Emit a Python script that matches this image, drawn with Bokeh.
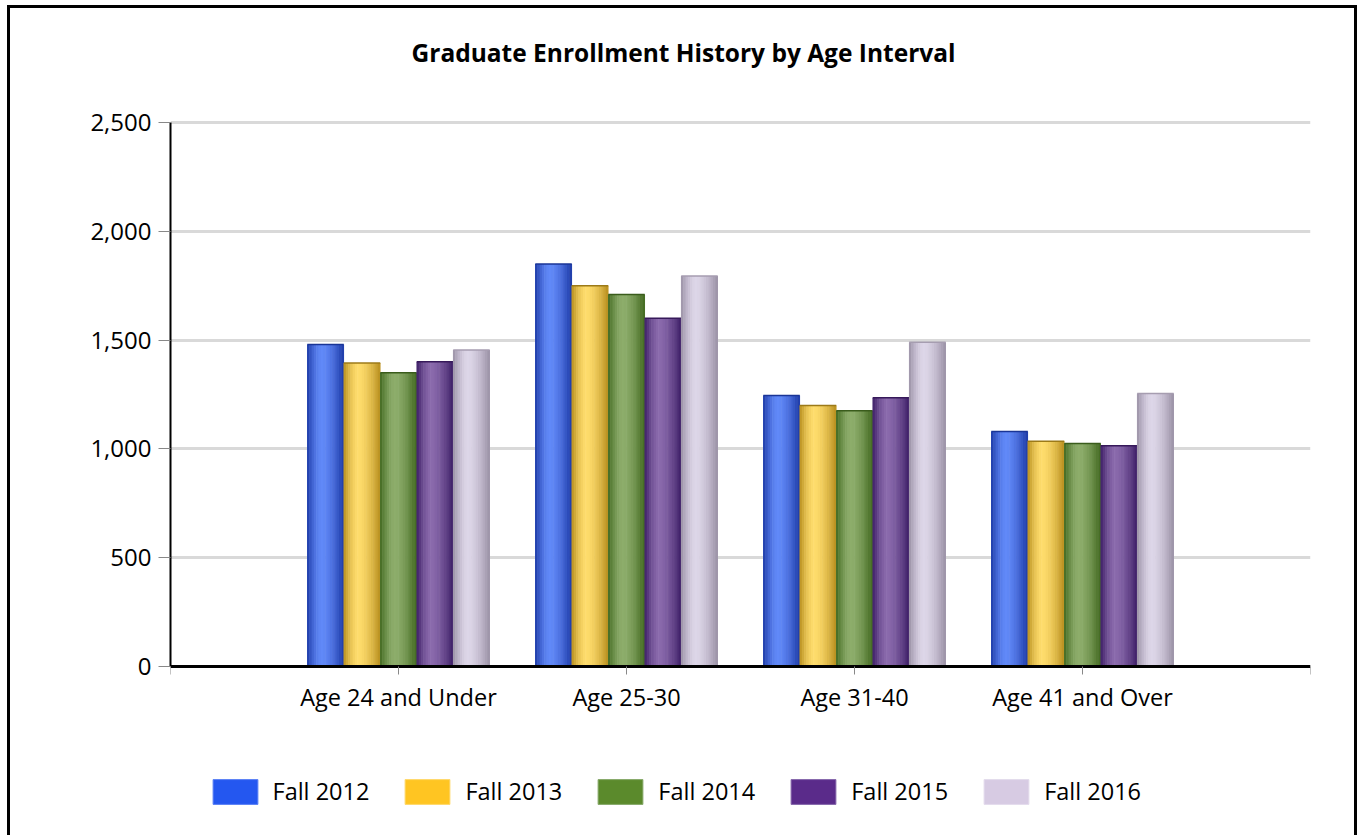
from bokeh.plotting import figure
from bokeh.models import (ColumnDataSource, FixedTicker, NumeralTickFormatter,
                          Legend, LegendItem, Range1d, Label)
from bokeh.embed import file_html
from bokeh.resources import INLINE

# ---------------- data ----------------
title_text = "Graduate Enrollment History by Age Interval"
categories = ["Age 24 and Under", "Age 25-30", "Age 31-40", "Age 41 and Over"]
series_names = ["Fall 2012", "Fall 2013", "Fall 2014", "Fall 2015", "Fall 2016"]
fall_2012 = [1480, 1850, 1245, 1080]
fall_2013 = [1395, 1750, 1200, 1035]
fall_2014 = [1350, 1710, 1175, 1025]
fall_2015 = [1400, 1600, 1235, 1015]
fall_2016 = [1455, 1795, 1490, 1255]
y_ticks = [0, 500, 1000, 1500, 2000, 2500]

series_values = [fall_2012, fall_2013, fall_2014, fall_2015, fall_2016]

# ---------------- style / layout ----------------
FONT = "Open Sans"
swatch_colors = ["#2457f0", "#ffc522", "#5b8a2c", "#5a2b8a", "#d7cbe3"]
swatch_lines = ["#5a80f5", "#ffd86a", "#86a868", "#8566aa", "#e3dbec"]
dark_colors = ["#1c39a6", "#b88f1e", "#41681f", "#3d1e66", "#9a90a5"]
light_colors = ["#6189f8", "#fedc6c", "#8dad6b", "#8a6aac", "#ddd6e8"]
top_lines = ["#1a3596", "#9c7a18", "#3a5c1c", "#36195a", "#a69db0"]

ML, MT = 10, 8            # host margin (page offset of canvas)
W, H = 1344, 830
FL, FR = 170, 1310        # frame left/right (page px)
Y_TOP_PX, Y_ZERO_PX = 122, 666   # page px of y=2500 and y=0
Y_MAX = y_ticks[-1]
CANVAS_TOP, CANVAS_BOTTOM = MT, MT + H
px_per_unit = (Y_ZERO_PX - Y_TOP_PX) / Y_MAX
y_start = -(CANVAS_BOTTOM - Y_ZERO_PX) / px_per_unit
y_end = (Y_ZERO_PX - CANVAS_TOP) / px_per_unit

N_STRIPS = 16
bar_w = 0.16


def hex2rgb(h):
    h = h.lstrip("#")
    return tuple(int(h[i:i + 2], 16) for i in (0, 2, 4))


def mix(c1, c2, m):
    a, b = hex2rgb(c1), hex2rgb(c2)
    return "#%02x%02x%02x" % tuple(int(round(x + (y - x) * m)) for x, y in zip(a, b))


def shade(t):
    peak = 0.4
    if t < peak:
        d = (peak - t) / peak
    else:
        d = (t - peak) / (1 - peak)
    return max(0.0, 1 - d ** 1.6)


n_slots = len(categories) + 1
p = figure(width=W, height=H, x_range=Range1d(0, n_slots),
           y_range=Range1d(y_start, y_end),
           output_backend="svg", toolbar_location=None,
           min_border_left=FL - ML, min_border_right=(ML + W) - FR,
           min_border_top=0, min_border_bottom=0)
p.styles = {"margin-left": "%dpx" % ML, "margin-top": "%dpx" % MT,
            "box-shadow": "-3px -3px 0 0 black, 3px -3px 0 0 black"}
p.outline_line_color = None
p.background_fill_color = "white"
p.border_fill_color = "white"

p.xgrid.visible = False
p.ygrid.ticker = FixedTicker(ticks=y_ticks)
p.ygrid.grid_line_color = "#d9d9d9"
p.ygrid.grid_line_width = 3

# y axis
p.yaxis.ticker = FixedTicker(ticks=y_ticks)
p.yaxis.bounds = (0, Y_MAX)
p.yaxis.formatter = NumeralTickFormatter(format="0,0")
p.yaxis.axis_line_color = "black"
p.yaxis.axis_line_width = 2
p.yaxis.major_tick_line_color = "#888888"
p.yaxis.major_tick_out = 12
p.yaxis.major_tick_in = 0
p.yaxis.minor_tick_line_color = None
p.yaxis.major_label_standoff = 7
p.yaxis.major_label_text_font = FONT
p.yaxis.major_label_text_font_size = "24px"
p.yaxis.major_label_text_color = "black"

# x axis, pinned at y = 0
p.xaxis.fixed_location = 0
p.xaxis.ticker = FixedTicker(ticks=list(range(n_slots + 1)))
overrides = {0: "", n_slots: ""}
for i, c in enumerate(categories):
    overrides[i + 1] = c
p.xaxis.major_label_overrides = overrides
p.xaxis.axis_line_color = "black"
p.xaxis.axis_line_width = 3
p.xaxis.major_tick_line_color = "#888888"
p.xaxis.major_tick_out = 8
p.xaxis.major_tick_in = 0
p.xaxis.minor_tick_line_color = None
p.xaxis.major_label_standoff = 6
p.xaxis.major_label_text_font = FONT
p.xaxis.major_label_text_font_size = "23.5px"
p.xaxis.major_label_text_color = "black"

# bars (gradient simulated by narrow strips)
strip_w = bar_w / N_STRIPS
for j, vals in enumerate(series_values):
    xs, tops, cols = [], [], []
    for i, v in enumerate(vals):
        center = (i + 1) + (j - (len(series_values) - 1) / 2) * bar_w
        for k in range(N_STRIPS):
            t = (k + 0.5) / N_STRIPS
            xs.append(center - bar_w / 2 + t * bar_w)
            tops.append(v)
            cols.append(mix(dark_colors[j], light_colors[j], shade(t)))
    src = ColumnDataSource(dict(x=xs, top=tops, color=cols))
    p.vbar(x="x", top="top", bottom=0, width=strip_w * 1.25, source=src,
           fill_color="color", line_color=None)
    cx = [(i + 1) + (j - (len(series_values) - 1) / 2) * bar_w for i in range(len(vals))]
    p.segment(x0=[c - bar_w / 2 for c in cx], x1=[c + bar_w / 2 for c in cx],
              y0=vals, y1=vals, line_color=top_lines[j], line_width=1.5)

# legend with flat swatches (proxy renderers placed outside the visible range)
items = []
for j, name in enumerate(series_names):
    r = p.vbar(x=[-10], top=[1], width=0.1, fill_color=swatch_colors[j],
               line_color=swatch_lines[j])
    items.append(LegendItem(label=name, renderers=[r]))
legend = Legend(items=items, orientation="horizontal",
                location=(206.5 - FL, CANVAS_BOTTOM - 807),
                glyph_width=56, glyph_height=31, label_standoff=10, spacing=30,
                padding=10, margin=0, border_line_color=None,
                background_fill_alpha=0, label_text_font=FONT,
                label_text_font_size="23.5px", label_text_color="black")
p.add_layout(legend, "center")

# title
title = Label(x=683 - FL, y=CANVAS_BOTTOM - 52, x_units="screen", y_units="screen",
              text=title_text, text_align="center", text_baseline="middle",
              text_font=FONT, text_font_style="bold", text_font_size="24.5px",
              text_color="black")
p.add_layout(title)

open("out.html", "w").write(file_html(p, INLINE))
